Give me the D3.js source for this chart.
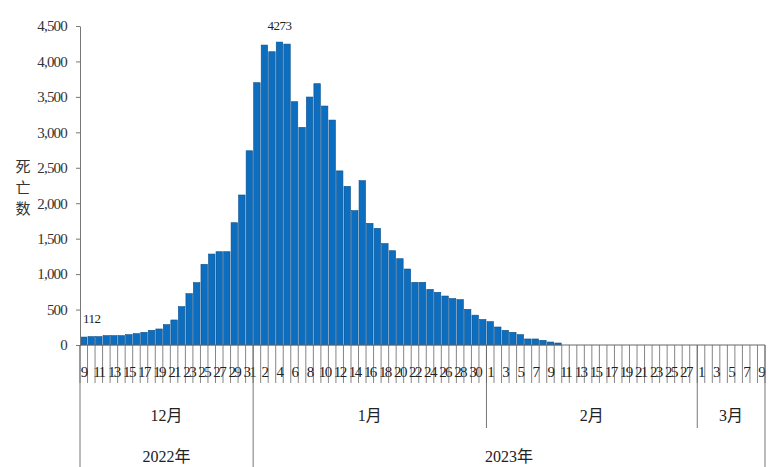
<!DOCTYPE html>
<html>
<head>
<meta charset="utf-8">
<script src="https://cdn.jsdelivr.net/npm/d3@7"></script>
<style>
  body { margin: 0; background: #fff; }
  svg text { font-family: "Liberation Serif", "Noto Sans CJK SC", serif; fill: #222; }
  .cjk { font-family: "Noto Sans CJK SC", sans-serif; }
</style>
</head>
<body>
<div id="chart"></div>
<script>
// daily deaths, 9 Dec 2022 - 9 Mar 2023
const decDeaths = [112, 118, 118, 132, 132, 132, 146, 160, 179, 207, 226, 287, 353, 541, 724, 880, 1138, 1283, 1316, 1316, 1725, 2116, 2740];
const janDeaths = [3700, 4231, 4137, 4273, 4245, 3432, 3070, 3498, 3686, 3371, 3173, 2456, 2238, 1895, 2318, 1716,
                   1645, 1430, 1330, 1217, 1072, 884, 884, 785, 743, 691, 655, 640, 503, 421, 360];
const febDeaths = [329, 254, 207, 179, 146, 85, 85, 66, 42, 28, 0, 0, 0, 0, 0, 0, 0, 0, 0, 0, 0, 0, 0, 0, 0, 0, 0, 0];
const marDeaths = [0, 0, 0, 0, 0, 0, 0, 0, 0];

const monthLabels = ["12月", "1月", "2月", "3月"];
const monthFirstDay = [9, 1, 1, 1];
const yearLabels = ["2022年", "2023年"];
const yearMonths = [1, 3];           // how many months each year spans
const yTicks = [0, 500, 1000, 1500, 2000, 2500, 3000, 3500, 4000, 4500];
const yTitle = ["死", "亡", "数"];

const W = 777, H = 467;
const plotLeft = 80, plotRight = 765, plotTop = 26, base = 345;

// flatten the month arrays into one list of days
const monthSeries = [decDeaths, janDeaths, febDeaths, marDeaths];
let days = [];
monthSeries.forEach((vals, m) => {
    vals.forEach((v, i) => {
        days.push({ key: days.length, month: m, day: monthFirstDay[m] + i, value: v });
    });
});

const svg = d3.select("#chart").append("svg")
    .attr("width", W).attr("height", H);

const x = d3.scaleBand()
    .domain(days.map(d => d.key))
    .range([plotLeft, plotRight])
    .paddingInner(0.14)
    .paddingOuter(0.07);

const y = d3.scaleLinear().domain([0, 4500]).range([base, plotTop]);

// bars
svg.append("g")
    .selectAll("rect")
    .data(days.filter(d => d.value > 0))
    .join("rect")
    .attr("x", d => x(d.key))
    .attr("width", x.bandwidth())
    .attr("y", d => y(d.value))
    .attr("height", d => base - y(d.value))
    .style("fill", "#0d6dbf")
    .style("stroke", "#0a528f")
    .style("stroke-width", 0.6);

// y axis
const yAxis = svg.append("g")
    .attr("transform", `translate(${plotLeft},0)`)
    .call(d3.axisLeft(y).tickValues(yTicks).tickFormat(d3.format(",")).tickSize(4).tickSizeOuter(0));
yAxis.select(".domain").style("stroke", "#777");
yAxis.selectAll(".tick line").style("stroke", "#777");
yAxis.selectAll(".tick text")
    .attr("x", -13)
    .style("font-family", "Liberation Serif")
    .style("font-size", "15px")
    .style("letter-spacing", "-0.8px")
    .style("fill", "#333");

// y title, one character per line
svg.append("g").selectAll("text")
    .data(yTitle)
    .join("text")
    .attr("class", "cjk")
    .attr("x", 23)
    .attr("y", (d, i) => 172 + i * 21)
    .attr("text-anchor", "middle")
    .style("font-size", "15px")
    .style("fill", "#333")
    .text(d => d);

// baseline
const step = x.step();
const edge = k => plotLeft + x.paddingOuter() * step + k * step - (x.paddingInner() * step) / 2;
const boundary = k => k === 0 ? plotLeft : (k === days.length ? plotRight : edge(k));

svg.append("line")
    .attr("x1", plotLeft).attr("x2", plotRight)
    .attr("y1", base).attr("y2", base)
    .style("stroke", "#666");

// day separators
svg.append("g").selectAll("line")
    .data(d3.range(days.length + 1))
    .join("line")
    .attr("x1", k => boundary(k)).attr("x2", k => boundary(k))
    .attr("y1", base).attr("y2", 383)
    .style("stroke", "#666")
    .style("stroke-width", 0.8);

// day labels (every other day)
svg.append("g").selectAll("text")
    .data(days.filter(d => d.key % 2 === 0))
    .join("text")
    .attr("x", d => x(d.key) + x.bandwidth() / 2)
    .attr("y", 377)
    .attr("text-anchor", "middle")
    .style("font-size", "15px")
    .style("letter-spacing", "-1.6px")
    .text(d => d.day);

// month & year boundaries
const monthStart = monthLabels.map((m, i) => days.find(d => d.month === i).key);
const monthEnd = monthLabels.map((m, i) => days.filter(d => d.month === i).slice(-1)[0].key + 1);

let yearBreaks = [0];
yearMonths.forEach(n => yearBreaks.push(yearBreaks[yearBreaks.length - 1] + n));
const isYearBreak = i => yearBreaks.includes(i);

const breaks = monthStart.concat([days.length]);
svg.append("g").selectAll("line")
    .data(breaks.map((k, i) => ({ k, i })))
    .join("line")
    .attr("x1", d => boundary(d.k)).attr("x2", d => boundary(d.k))
    .attr("y1", base)
    .attr("y2", d => isYearBreak(d.i) ? H : 428)
    .style("stroke", "#666")
    .style("stroke-width", 0.9);

svg.append("g").selectAll("text")
    .data(monthLabels)
    .join("text")
    .attr("x", (m, i) => (boundary(monthStart[i]) + boundary(monthEnd[i])) / 2)
    .attr("y", 421)
    .attr("text-anchor", "middle")
    .style("font-size", "16px")
    .text(d => d);

svg.append("g").selectAll("text")
    .data(yearLabels)
    .join("text")
    .attr("x", (t, i) => (boundary(monthStart[yearBreaks[i]]) + boundary(breaks[yearBreaks[i + 1]])) / 2)
    .attr("y", 462)
    .attr("text-anchor", "middle")
    .style("font-size", "16px")
    .text(d => d);

// value notes on first bar and the peak
const peak = days.reduce((a, b) => b.value > a.value ? b : a);
svg.append("g").selectAll("text")
    .data([days[0], peak])
    .join("text")
    .attr("x", d => x(d.key) + x.bandwidth() / 2 + (d === peak ? 0 : 8))
    .attr("y", d => y(d.value) - (d === peak ? 12 : 14))
    .attr("text-anchor", "middle")
    .style("font-size", "13px")
    .style("letter-spacing", "-0.5px")
    .text(d => d.value);
</script>
</body>
</html>
